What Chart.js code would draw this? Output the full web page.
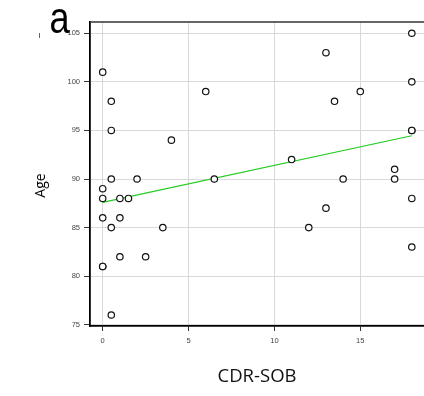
<!DOCTYPE html>
<html>
<head>
<meta charset="utf-8">
<script src="https://cdn.jsdelivr.net/npm/chart.js@4.4.1/dist/chart.umd.min.js"></script>
<style>
  html, body { margin: 0; padding: 0; background: #ffffff; overflow: hidden; }
  #wrap { width: 424px; height: 396px; overflow: hidden; }
  canvas { display: block; }
</style>
</head>
<body>
<div id="wrap"><canvas id="c" width="424" height="396"></canvas></div>
<script>
// ---- data ----
const cdrSob = [0, 0.5, 0.5, 4, 6, 0.5, 2, 0, 0, 1, 1.5, 0, 1, 0.5, 3.5, 1, 2.5, 0, 0, 0.5,
                18, 13, 18, 15, 13.5, 18, 18, 11, 6.5, 14, 17, 17, 18, 13, 12, 18];
const age    = [101, 98, 95, 94, 99, 90, 90, 89, 88, 88, 88, 86, 86, 85, 85, 82, 82, 81, 81, 76,
                105, 103, 100, 99, 98, 95, 95, 92, 90, 90, 91, 90, 88, 87, 85, 83];
const fitX = [0, 18];
const fitY = [87.6, 94.45];
const xTicks = [0, 5, 10, 15];
const yTicks = [75, 80, 85, 90, 95, 100, 105];
const panelLabel = 'a';
const xTitle = 'CDR-SOB';
const yTitle = 'Age';

const points = cdrSob.map((x, i) => ({ x: x, y: age[i] }));
const fitLine = fitX.map((x, i) => ({ x: x, y: fitY[i] }));

const tickFont = { family: '"Liberation Sans", Arial, sans-serif', size: 7.5 };

const decor = {
  id: 'decor',
  beforeDatasetsDraw(chart) {
    const { ctx, chartArea } = chart;
    ctx.save();
    ctx.strokeStyle = '#333333';
    ctx.lineWidth = 1.6;
    ctx.beginPath();
    ctx.moveTo(chartArea.left, chartArea.top);
    ctx.lineTo(chartArea.right, chartArea.top);
    ctx.stroke();
    ctx.restore();
  },
  afterDraw(chart) {
    const { ctx } = chart;
    // panel letter
    ctx.save();
    ctx.fillStyle = '#000000';
    ctx.font = '44px "Liberation Sans", Arial, sans-serif';
    ctx.textAlign = 'left';
    ctx.textBaseline = 'alphabetic';
    ctx.translate(49.5, 33);
    ctx.scale(0.82, 1);
    ctx.fillText(panelLabel, 0, 0);
    ctx.restore();
    // y title
    ctx.save();
    ctx.fillStyle = '#000000';
    ctx.font = '14px "Open Sans", sans-serif';
    ctx.textAlign = 'center';
    ctx.textBaseline = 'alphabetic';
    ctx.translate(45, 185.5);
    ctx.rotate(-Math.PI / 2);
    ctx.fillText(yTitle, 0, 0);
    ctx.restore();
    // small dash mark
    ctx.save();
    ctx.fillStyle = '#000000';
    ctx.font = '9px "Liberation Sans", Arial, sans-serif';
    ctx.textAlign = 'center';
    ctx.textBaseline = 'middle';
    ctx.translate(39.5, 35.5);
    ctx.rotate(-Math.PI / 2);
    ctx.fillText('–', 0, 0);
    ctx.restore();
  }
};

new Chart(document.getElementById('c'), {
  type: 'scatter',
  data: {
    datasets: [
      {
        type: 'line',
        data: fitLine,
        borderColor: '#22cc22',
        borderWidth: 1.2,
        pointRadius: 0,
        fill: false,
        order: 2
      },
      {
        data: points,
        pointRadius: 3.2,
        pointHoverRadius: 3.2,
        pointBorderWidth: 1.2,
        pointBorderColor: '#111111',
        pointBackgroundColor: '#ffffff',
        borderColor: '#111111',
        backgroundColor: '#ffffff',
        order: 1
      }
    ]
  },
  options: {
    responsive: false,
    animation: false,
    events: [],
    layout: { autoPadding: false, padding: { top: 22, left: 0, right: 0, bottom: 0 } },
    plugins: { legend: { display: false }, tooltip: { enabled: false } },
    scales: {
      x: {
        type: 'linear',
        position: 'bottom',
        min: -0.74,
        max: 18.71,
        afterFit(s) { s.height = 70; },
        afterBuildTicks(s) { s.ticks = xTicks.map(v => ({ value: v })); },
        grid: { color: '#d9d9d9', lineWidth: 1, tickLength: 5, tickColor: '#333333', tickWidth: 1 },
        border: { display: true, color: '#000000', width: 1.8 },
        ticks: { font: tickFont, color: '#444444', padding: 5, maxRotation: 0 },
        title: {
          display: true,
          text: xTitle,
          color: '#111111',
          font: { family: '"Open Sans", sans-serif', size: 18.5 },
          padding: { top: 0, bottom: 8 }
        }
      },
      y: {
        type: 'linear',
        position: 'left',
        min: 74.87,
        max: 106.16,
        afterFit(s) { s.width = 90; },
        afterBuildTicks(s) { s.ticks = yTicks.map(v => ({ value: v })); },
        grid: { color: '#d9d9d9', lineWidth: 1, tickLength: 6, tickColor: '#333333', tickWidth: 1 },
        border: { display: true, color: '#000000', width: 1.8 },
        ticks: { font: tickFont, color: '#444444', padding: 4 }
      }
    }
  },
  plugins: [decor]
});
</script>
</body>
</html>
